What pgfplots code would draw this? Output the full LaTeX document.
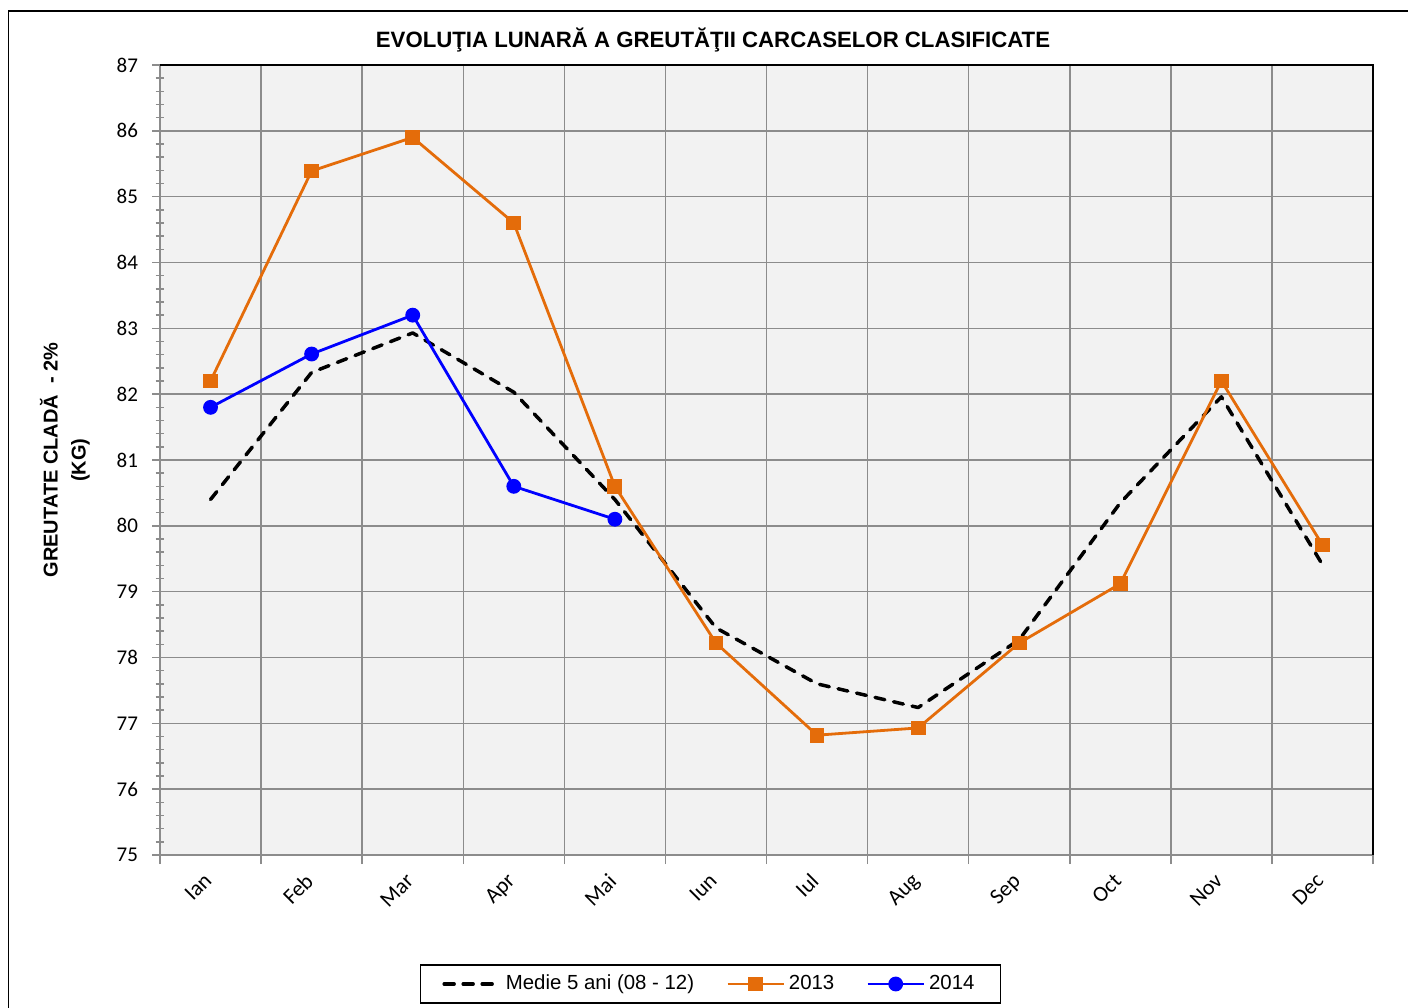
\documentclass[border=0pt]{standalone}
\usepackage{fontspec}
\setmainfont{Liberation Sans}
\newfontfamily\tickfont{Carlito}
\usepackage{pgfplots}
\pgfplotsset{compat=1.18}
\definecolor{orng}{HTML}{E46C0A}
\definecolor{gridg}{HTML}{8C8C8C}
\definecolor{bgg}{HTML}{F2F2F2}
\begin{document}
\begin{tikzpicture}
\useasboundingbox (0,0) rectangle (704pt,503.5pt);
\draw[line width=0.75pt] (4.25pt,-2pt) -- (4.25pt,498pt) -- (710pt,498pt);
\node[font=\fontsize{11.1}{13}\selectfont\bfseries] at (356.5pt,483.5pt) {EVOLUŢIA LUNARĂ A GREUTĂŢII CARCASELOR CLASIFICATE};
\begin{axis}[
  at={(80pt,76pt)}, anchor=south west,
  scale only axis, width=606.5pt, height=395pt,
  xmin=0, xmax=12, ymin=75, ymax=87,
  axis background/.style={fill=bgg},
  axis line style={draw=gridg, line width=1pt},
  xtick={0.5,1.5,...,11.5},
  xticklabels={Ian,Feb,Mar,Apr,Mai,Iun,Iul,Aug,Sep,Oct,Nov,Dec},
  major x tick style={draw=none},
  minor xtick={0,1,...,12},
  xminorgrids=true,
  minor x grid style={gridg, line width=0.75pt},
  minor x tick style={gridg, line width=0.75pt},
  ytick={75,76,...,87},
  ymajorgrids=true,
  major y grid style={gridg, line width=0.75pt},
  major y tick style={gridg, line width=0.75pt},
  minor y tick num=4,
  minor y tick style={gridg, line width=0.75pt, xshift=2.25pt},
  tick align=outside,
  major tick length=4pt,
  minor tick length=4.5pt,
  tick pos=left,
  /pgf/number format/assume math mode=true,
  yticklabel style={font=\tickfont\fontsize{10.5}{12}\selectfont, xshift=-3.5pt},
  xticklabel style={font=\tickfont\fontsize{11}{12}\selectfont, rotate=45, anchor=north east, xshift=-2.5pt, yshift=3pt},
  ylabel={\bfseries\begin{tabular}{c}GREUTATE  CLADĂ \ - 2\%\\(KG)\end{tabular}},
  ylabel style={font=\fontsize{10}{14}\selectfont, at={(axis description cs:-0.0775,0.5)}, anchor=center},
  legend columns=3,
  legend style={at={(0.4538,-0.1633)}, anchor=center, draw=black, line width=0.75pt,
    font=\fontsize{10.2}{12}\selectfont, inner xsep=11pt, inner ysep=3pt,
    /tikz/every even column/.append style={column sep=14pt}},
  legend image code/.code={\draw[mark repeat=2,mark phase=2,#1] plot coordinates {(0pt,0pt)(14pt,0pt)(28pt,0pt)};},
  clip=false,
]
\addplot[black, line width=1.75pt, line cap=round, dash pattern=on 5pt off 4.5pt, line join=round] coordinates {
 (0.5,80.4) (1.5,82.33) (2.5,82.93) (3.5,82.03) (4.5,80.4) (5.5,78.45) (6.5,77.6) (7.5,77.24) (8.5,78.27) (9.5,80.35) (10.5,81.96) (11.5,79.41)};
\addlegendentry{Medie 5 ani  (08 - 12)}
\addplot[orng, line width=1.4pt, mark=square*, mark size=3pt, mark options={solid}] coordinates {
 (0.5,82.2) (1.5,85.39) (2.5,85.9) (3.5,84.6) (4.5,80.6) (5.5,78.22) (6.5,76.82) (7.5,76.93) (8.5,78.22) (9.5,79.12) (10.5,82.2) (11.5,79.71)};
\addlegendentry{2013}
\addplot[blue, line width=1.4pt, mark=*, mark size=3pt] coordinates {
 (0.5,81.8) (1.5,82.61) (2.5,83.2) (3.5,80.6) (4.5,80.1)};
\addlegendentry{2014}
\draw[black, line width=1pt] (rel axis cs:0,1) -- (rel axis cs:1,1) -- (rel axis cs:1,0);
\end{axis}
\end{tikzpicture}
\end{document}
